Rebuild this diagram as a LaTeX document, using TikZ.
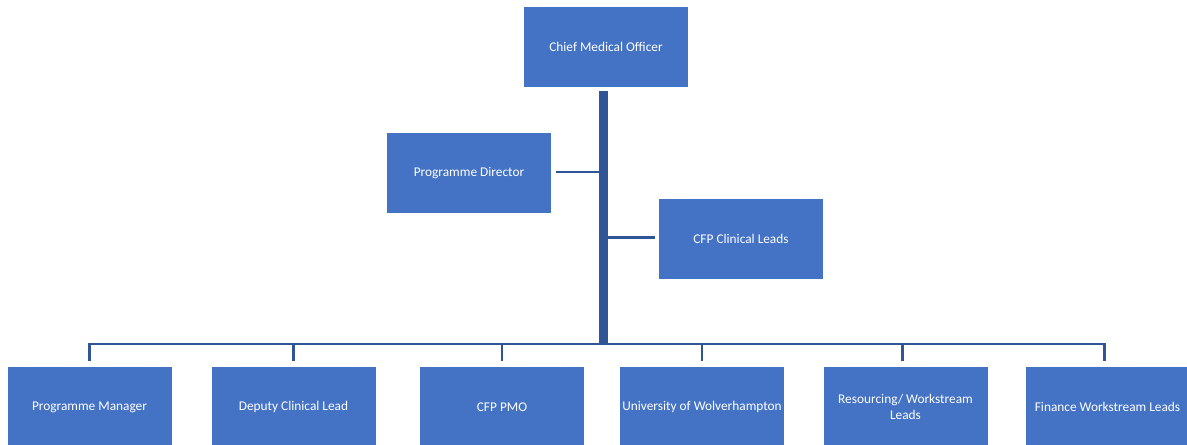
\documentclass[tikz,border=0pt]{standalone}
\usepackage{fontspec}
\setmainfont{Carlito}
\definecolor{boxblue}{HTML}{4472C4}
\definecolor{lineblue}{HTML}{2F5597}
\begin{document}
\begin{tikzpicture}[x=0.75pt,y=-0.75pt,
  role/.style={fill=boxblue,draw=none,text=white,minimum width=123pt,minimum height=60pt,
    inner sep=0pt,align=center,font=\fontsize{10}{12}\selectfont},
  conn/.style={draw=lineblue,line width=2.2pt},
  trunk/.style={draw=lineblue,line width=6.4pt}]
\useasboundingbox (0,0) rectangle (1187,445);
% top of the chart
\node[role] (cmo) at (606,47) {Chief Medical Officer};
\node[role] (pd)  at (469,173) {Programme Director};
\node[role] (cl)  at (741,239) {CFP Clinical Leads};
% bottom row
\node[role] (b1) at (89.5,407) {Programme Manager};
\node[role] (b2) at (293.5,407) {Deputy Clinical Lead};
\node[role] (b3) at (502,407) {CFP PMO};
\node[role] (b4) at (702,407) {University of Wolverhampton};
\node[role] (b5) at (905.5,407) {Resourcing/ Workstream\\Leads};
\node[role] (b6) at (1107.5,407) {Finance Workstream Leads};
% junction of the trunk and the horizontal bus
\coordinate (hub) at (603.5,344);
% connectors
\draw[trunk,shorten <=3pt] (cmo.south -| hub) -- (hub);
\draw[conn,shorten <=3.5pt] ([yshift=0.75pt]pd.east) -- ([yshift=0.75pt]pd.east -| hub);
\draw[conn,shorten <=3pt] ([yshift=1.3pt]cl.west) -- ([yshift=1.3pt]cl.west -| hub);
\draw[conn,shorten <=4.5pt] (b1.north) |- (hub);
\draw[conn,shorten <=4.5pt] (b2.north) |- (hub);
\draw[conn,shorten <=4.5pt] (b3.north) |- (hub);
\draw[conn,shorten <=4.5pt] (b4.north) |- (hub);
\draw[conn,shorten <=4.5pt] ([xshift=-2.6pt]b5.north) |- (hub);
\draw[conn,shorten <=4.5pt] ([xshift=-2.6pt]b6.north) |- (hub);
\end{tikzpicture}
\end{document}
